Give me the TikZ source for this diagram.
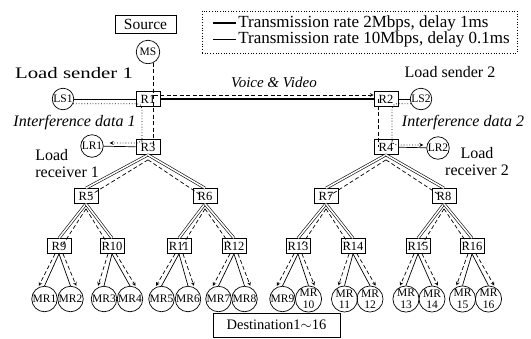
\documentclass[tikz,border=0pt]{standalone}
\usepackage{fontspec}
\usepackage{graphicx}
\setmainfont{Liberation Serif}
\begin{document}
\begin{tikzpicture}[x=1pt, y=-1pt, >=stealth, line width=0.7pt,
  router/.style={draw, minimum width=24pt, minimum height=15pt, inner sep=0pt, font=\fontsize{12.5}{13}\selectfont},
  host/.style={draw, circle, minimum size=25.5pt, inner sep=0pt, align=center, font=\fontsize{11.5}{11.5}\selectfont},
  lbl/.style={inner sep=1pt, font=\fontsize{16}{17}\selectfont},
  link/.style={double, double distance=1.6pt, line width=0.6pt},
  flow/.style={dash pattern=on 4pt off 2.5pt, line width=0.7pt, ->},
  noise/.style={dotted, line width=0.8pt, ->}]
  \useasboundingbox (0,0) rectangle (531,338);
  % legend
  \node[draw, dotted, minimum width=315pt, minimum height=42pt] (lgd) at (359.5,32) {};
  \node[lbl, anchor=west, font=\fontsize{17}{18}\selectfont] (rate1) at (237,23) {Transmission rate 2Mbps, delay 1ms};
  \node[lbl, anchor=west, font=\fontsize{17}{18}\selectfont] (rate2) at (237,39.5) {Transmission rate 10Mbps, delay 0.1ms};
  \draw[line width=2pt] ([xshift=-24pt]rate1.west) -- ([xshift=-1pt]rate1.west);
  \draw ([xshift=-24pt]rate2.west) -- ([xshift=-1pt]rate2.west);
  % core routers and end hosts
  \node[lbl, draw, minimum width=61pt, minimum height=18pt, inner sep=0pt, font=\fontsize{15.5}{16}\selectfont] (src) at (145.5,24) {Source};
  \node[host, minimum size=23.5pt] (ms) at (148,52) {MS};
  \node[router] (r1) at (148,99) {R1};
  \node[router] (r2) at (386,99) {R2};
  \node[router] (r3) at (148,147) {R3};
  \node[router] (r4) at (386,147) {R4};
  \node[host, minimum size=21.5pt] (ls1) at (63,99) {LS1};
  \node[host, minimum size=21.5pt] (ls2) at (421,99) {LS2};
  \node[host, minimum size=22.5pt] (lr1) at (92,146) {LR1};
  \node[host, minimum size=22.5pt] (lr2) at (438,148) {LR2};
  \node[router] (r5) at (86,196) {R5};
  \node[router] (r6) at (205,196) {R6};
  \node[router] (r7) at (326,196) {R7};
  \node[router] (r8) at (444,196) {R8};
  \foreach \n/\x in {9/59, 10/112, 11/179, 12/234, 13/298, 14/353, 15/418, 16/472}
    \node[router] (r\n) at (\x,246) {R\n};
  \foreach \n/\x in {1/44.5, 2/70.5, 3/104, 4/130, 5/161.5, 6/188, 7/218.5, 8/244.5}
    \node[host] (mr\n) at (\x,299) {MR\n};
  \foreach \n/\x in {9/282.5, 10/308.5, 11/344.5, 12/370, 13/406, 14/432, 15/462.5, 16/488.5}
    \node[host] (mr\n) at (\x,299) {MR\ifnum\n>9 \\\fi\n};
  \node[draw, minimum width=127pt, minimum height=24pt, inner sep=0pt, font=\fontsize{14.5}{16}\selectfont] (dst) at (276.5,325) {Destination1$\sim$16};

  % links
  \draw[link] (ms) -- (r1);
  \draw[link] (r1) -- (r3);
  \draw[link] (r2) -- (r4);
  \draw[line width=2pt] (r1) -- (r2);
  \draw (ls1) -- (r1);
  \draw (ls2) -- (r2);
  \draw (lr1) -- (r3);
  \draw (lr2) -- (r4);
  \foreach \p/\a/\b in {r3/r5/r6, r4/r7/r8, r5/r9/r10, r6/r11/r12, r7/r13/r14, r8/r15/r16} {
    \draw[link] (\p.south) -- (\a.north);
    \draw[link] (\p.south) -- (\b.north);
    \draw[flow, -] ([yshift=-5pt]\p.south) -- ([xshift=3pt]\a.center);
    \draw[flow, -] ([yshift=-5pt]\p.south) -- ([xshift=-3pt]\b.center);
  }
  \foreach \p/\a/\b in {r9/mr1/mr2, r10/mr3/mr4, r11/mr5/mr6, r12/mr7/mr8, r13/mr9/mr10, r14/mr11/mr12, r15/mr13/mr14, r16/mr15/mr16} {
    \draw (\p.south) -- (\a.north);
    \draw (\p.south) -- (\b.north);
    \draw[flow, shorten >=2pt] ([xshift=-4pt]\p.south) -- (\a.120);
    \draw[flow, shorten >=2pt] ([xshift=4pt]\p.south) -- (\b.60);
  }

  % voice/video stream and interference traffic
  \draw[flow] (ms.-62) |- ([yshift=4pt]r2.west);
  \draw[flow, -] (ms.-62) -- (ms.-62 |- r3);
  \draw[flow, -] ([xshift=-8pt]r2.center) -- ([xshift=-8pt]r4.center);
  \draw[noise, rounded corners=5pt] (ls1.-25) -| ([xshift=-6pt]r3.north) |- ([xshift=6pt,yshift=3pt]lr1.east);
  \draw[noise, rounded corners=5pt] (ls2.-155) -| ([xshift=6pt]r4.north) |- ([xshift=-3pt,yshift=3pt]lr2.west);

  % labels
  \node[lbl, font=\fontsize{15}{16}\selectfont\itshape] (voice) at (274,82) {Voice \& Video};
  \node[lbl] (snd1) at (74,73) {\scalebox{1.3}[1]{Load sender 1}};
  \node[lbl] (snd2) at (450,72) {Load sender 2};
  \node[lbl, font=\fontsize{16}{17}\selectfont\itshape] (itf1) at (74.5,123) {Interference data 1};
  \node[lbl, font=\fontsize{16}{17}\selectfont\itshape] (itf2) at (463,123) {Interference data 2};
  \node[lbl, align=left, anchor=west] (rcv1) at (34,163.5) {Load\\receiver 1};
  \node[lbl, align=center] (rcv2) at (477,162) {Load\\receiver 2};
\end{tikzpicture}
\end{document}
